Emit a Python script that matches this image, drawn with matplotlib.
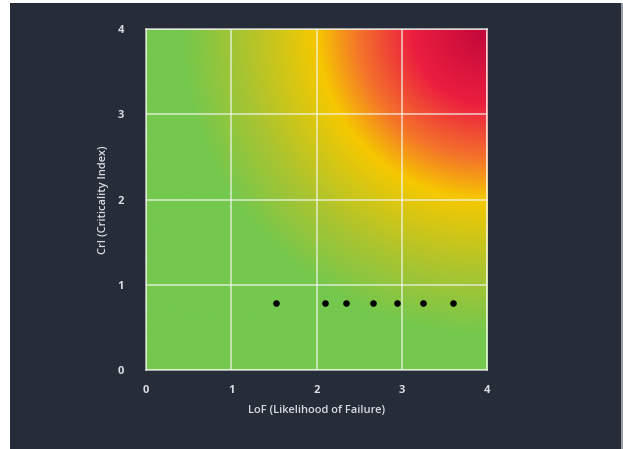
import numpy as np
import matplotlib
matplotlib.use("Agg")
import matplotlib.pyplot as plt
from matplotlib.colors import LinearSegmentedColormap
from matplotlib.patches import Rectangle

# Assessed assets: likelihood of failure vs criticality index
lof = [1.52, 2.10, 2.35, 2.66, 2.95, 3.25, 3.60]
cri = [0.79, 0.79, 0.79, 0.79, 0.79, 0.79, 0.79]

ticks = [0, 1, 2, 3, 4]
x_label = "LoF (Likelihood of Failure)"
y_label = "CrI (Criticality Index)"

BG = "#262c38"
TXT = "#d9dde4"

fig = plt.figure(figsize=(6.23, 4.49), dpi=100, facecolor="white")
# dark card behind the chart
fig.patches.append(Rectangle((10 / 623, 0), 611 / 623, 446 / 449,
                             transform=fig.transFigure, facecolor=BG,
                             edgecolor="none", zorder=-10))
fig.patches.append(Rectangle((621 / 623, 0), 2 / 623, 446 / 449,
                             transform=fig.transFigure, facecolor="#9a9ea6",
                             edgecolor="none", zorder=-10))

ax = fig.add_axes([146 / 623, 79 / 449, 341 / 623, 341 / 449])
ax.set_facecolor("#74c84e")

# risk background: radial blend out from the (4, 4) corner
risk_cmap = LinearSegmentedColormap.from_list("risk", [
    (0.00, "#c0083a"),
    (0.22, "#ec1e40"),
    (0.38, "#f4742a"),
    (0.50, "#f6c800"),
    (0.72, "#aac430"),
    (0.90, "#74c84e"),
    (1.00, "#74c84e"),
])
gx, gy = np.meshgrid(np.linspace(0, 4, 400), np.linspace(0, 4, 400))
dist = np.hypot(4 - gx, 4 - gy)
ax.imshow(dist, extent=[0, 4, 0, 4], origin="lower", cmap=risk_cmap,
          vmin=0, vmax=4, interpolation="bilinear", aspect="auto", zorder=0)

ax.scatter(lof, cri, s=14, color="black", zorder=3)

ax.set_xlim(0, 4)
ax.set_ylim(0, 4)
ax.set_xticks(ticks)
ax.set_yticks(ticks)
ax.grid(True, color="#f2f5ee", linewidth=1.1, alpha=0.8, zorder=1)
ax.set_axisbelow(False)
for s in ax.spines.values():
    s.set_color("#f2f5ee")
    s.set_linewidth(1.1)
    s.set_alpha(0.8)

fam = ["Open Sans", "DejaVu Sans"]
ax.tick_params(length=0, colors=TXT, labelsize=8)
ax.tick_params(axis="x", pad=11)
ax.tick_params(axis="y", pad=16)
for lab in ax.get_xticklabels() + ax.get_yticklabels():
    lab.set_fontfamily(fam)
    lab.set_fontweight("bold")

ax.set_xlabel(x_label, color=TXT, fontsize=8, labelpad=6,
              family=fam, weight="semibold")
ax.set_ylabel(y_label, color=TXT, fontsize=8, labelpad=6,
              family=fam, weight="semibold")

fig.savefig("out.png", dpi=100, facecolor=fig.get_facecolor())
